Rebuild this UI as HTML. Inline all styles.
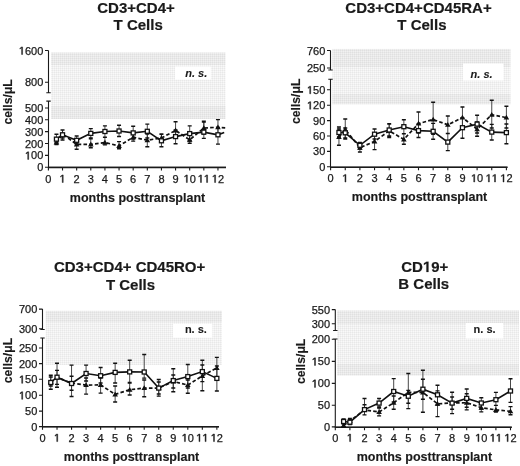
<!DOCTYPE html>
<html><head><meta charset="utf-8"><title>Figure</title>
<style>html,body{margin:0;padding:0;background:#fff;width:520px;height:466px;overflow:hidden}svg{display:block;filter:blur(0.3px)}text{font-family:"Liberation Sans",sans-serif;fill:#1a1a1a;stroke:#1a1a1a;stroke-width:0.25px}.t{font-weight:bold;font-size:15px;stroke-width:0.2px}.yl{font-size:11px}.xl{font-size:11px}.xt{font-weight:bold;font-size:12.5px;text-anchor:middle;stroke-width:0.15px}.yt{font-weight:bold;font-size:12.2px;text-anchor:middle;stroke-width:0.15px}.ns{font-weight:bold;font-size:11px;text-anchor:middle;stroke-width:0.1px}.i{font-style:italic}</style>
</head><body>
<svg width="520" height="466" viewBox="0 0 520 466">
<defs>
<pattern id="grid" width="2" height="2" patternUnits="userSpaceOnUse"><rect width="2" height="2" fill="#f9f9f9"/><rect width="2" height="1" fill="#f1f1f1"/><rect width="1" height="2" fill="#f1f1f1"/><rect width="1" height="1" fill="#e8e8e8"/></pattern>
</defs>
<rect width="520" height="466" fill="#fff"/>
<rect x="51" y="52.5" width="174.5" height="66.5" fill="url(#grid)"/>
<rect x="51" y="52.5" width="174.5" height="12.5" fill="#000" fill-opacity="0.03"/>
<rect x="51" y="106" width="174.5" height="13" fill="#000" fill-opacity="0.03"/>
<rect x="175" y="66.5" width="35.8" height="13.1" fill="#fff"/>
<text class="ns i" x="196.2" y="76.9">n. s.</text>
<path d="M48.5 50.5V92.8M46.3 92.8H50.7M46.3 101.1H50.7M48.5 101.1V167.4M45 50.5H48.5M45 82.2H48.5M45 108H48.5M45 119.8H48.5M45 131.6H48.5M45 143.5H48.5M45 155.4H48.5M45 167.3H48.5M48.5 167.4H226M48.4 167.4V170.4M62.53 167.4V170.4M76.66 167.4V170.4M90.79 167.4V170.4M104.92 167.4V170.4M119.05 167.4V170.4M133.18 167.4V170.4M147.31 167.4V170.4M161.44 167.4V170.4M175.57 167.4V170.4M189.7 167.4V170.4M203.83 167.4V170.4M217.96 167.4V170.4" stroke="#1a1a1a" stroke-width="1.1" fill="none"/>
<path d="M48 167.4H226" stroke="#1a1a1a" stroke-width="1.5" fill="none"/>
<text class="yl" x="24.95 31.06 37.18" y="54.5">600</text>
<text class="yl" x="24.95 31.06 37.18" y="86.2">800</text>
<text class="yl" x="24.95 31.06 37.18" y="112">500</text>
<text class="yl" x="24.95 31.06 37.18" y="123.8">400</text>
<text class="yl" x="24.95 31.06 37.18" y="135.6">300</text>
<text class="yl" x="24.95 31.06 37.18" y="147.5">200</text>
<text class="yl" x="31.06 37.18" y="159.4">00</text>
<text class="yl" x="37.18" y="171.3">0</text>
<text class="xl" x="45.34" y="182.5">0</text>

<text class="xl" x="73.6" y="182.5">2</text>
<text class="xl" x="87.73" y="182.5">3</text>
<text class="xl" x="101.86" y="182.5">4</text>
<text class="xl" x="115.99" y="182.5">5</text>
<text class="xl" x="130.12" y="182.5">6</text>
<text class="xl" x="144.25" y="182.5">7</text>
<text class="xl" x="158.38" y="182.5">8</text>
<text class="xl" x="172.51" y="182.5">9</text>
<text class="xl" x="189.7" y="182.5">0</text>

<text class="xl" x="217.96" y="182.5">2</text>
<text class="t" x="97.23 108.07 118.9 127.24 136 146.83 157.67 166.01" y="13">CD3+CD4+</text>
<text class="t" x="113.61 122.77 126.94 137.77 146.11 150.28 154.45" y="30.4">T Cells</text>
<text class="xt" x="137.5" y="202">months posttransplant</text>
<text class="yt" transform="translate(11.6 101.9) rotate(-90)">cells/&#956;L</text>
<path d="M56.45 134.3V142.5M62.53 130V140M76.66 136V144M90.79 128.6V138M104.92 125.9V137.2M119.05 125.2V136.5M133.18 126.2V139M147.31 124.1V138M161.44 134.2V146.7M175.57 130V143.7M189.7 125.9V141M203.83 121.1V138.4M217.96 128V144.1M56.45 139V144.5M62.53 130V138M76.66 140V149.3M90.79 138.7V147.8M104.92 137.2V144.9M119.05 141.6V148.8M133.18 133V141.1M147.31 134V146.7M161.44 134V142M175.57 121.7V137M189.7 134V143.2M203.83 122V134M217.96 119.6V134" stroke="#333" stroke-width="0.9" fill="none"/>
<path d="M54.45 134.3H58.45M54.45 142.5H58.45M60.53 130H64.53M60.53 140H64.53M74.66 136H78.66M74.66 144H78.66M88.79 128.6H92.79M88.79 138H92.79M102.92 125.9H106.92M102.92 137.2H106.92M117.05 125.2H121.05M117.05 136.5H121.05M131.18 126.2H135.18M131.18 139H135.18M145.31 124.1H149.31M145.31 138H149.31M159.44 134.2H163.44M159.44 146.7H163.44M173.57 130H177.57M173.57 143.7H177.57M187.7 125.9H191.7M187.7 141H191.7M201.83 121.1H205.83M201.83 138.4H205.83M215.96 128H219.96M215.96 144.1H219.96M54.45 139H58.45M54.45 144.5H58.45M60.53 130H64.53M60.53 138H64.53M74.66 140H78.66M74.66 149.3H78.66M88.79 138.7H92.79M88.79 147.8H92.79M102.92 137.2H106.92M102.92 144.9H106.92M117.05 141.6H121.05M117.05 148.8H121.05M131.18 133H135.18M131.18 141.1H135.18M145.31 134H149.31M145.31 146.7H149.31M159.44 134H163.44M159.44 142H163.44M173.57 121.7H177.57M173.57 137H177.57M187.7 134H191.7M187.7 143.2H191.7M201.83 122H205.83M201.83 134H205.83M215.96 119.6H219.96M215.96 134H219.96" stroke="#111" stroke-width="1.4" fill="none"/>
<polyline points="56.45,142.5 62.53,134 76.66,144.4 90.79,144.4 104.92,142.5 119.05,145.9 133.18,137.2 147.31,140.2 161.44,138 175.57,130.4 189.7,139.8 203.83,128 217.96,127.3 225.2,127.8" stroke="#111" stroke-width="1.7" stroke-dasharray="3.6 2.2" fill="none"/>
<polyline points="56.45,139.15 62.53,134.8 76.66,140.3 90.79,133.4 104.92,131.5 119.05,131 133.18,132.9 147.31,131.3 161.44,140.8 175.57,136.6 189.7,133.6 203.83,132.1 217.96,134.8 224.2,132.6" stroke="#111" stroke-width="1.6" fill="none"/>
<path d="M56.45 139.7L59.25 144.5L53.65 144.5ZM62.53 131.2L65.33 136L59.73 136ZM76.66 141.6L79.46 146.4L73.86 146.4ZM90.79 141.6L93.59 146.4L87.99 146.4ZM104.92 139.7L107.72 144.5L102.12 144.5ZM119.05 143.1L121.85 147.9L116.25 147.9ZM133.18 134.4L135.98 139.2L130.38 139.2ZM147.31 137.4L150.11 142.2L144.51 142.2ZM161.44 135.2L164.24 140L158.64 140ZM175.57 127.6L178.37 132.4L172.77 132.4ZM189.7 137L192.5 141.8L186.9 141.8ZM203.83 125.2L206.63 130L201.03 130ZM217.96 124.5L220.76 129.3L215.16 129.3Z" fill="#111"/>
<rect x="54.45" y="137.15" width="4" height="4" fill="#fff" stroke="#111" stroke-width="1.3"/><rect x="60.53" y="132.8" width="4" height="4" fill="#fff" stroke="#111" stroke-width="1.3"/><rect x="74.66" y="138.3" width="4" height="4" fill="#fff" stroke="#111" stroke-width="1.3"/><rect x="88.79" y="131.4" width="4" height="4" fill="#fff" stroke="#111" stroke-width="1.3"/><rect x="102.92" y="129.5" width="4" height="4" fill="#fff" stroke="#111" stroke-width="1.3"/><rect x="117.05" y="129" width="4" height="4" fill="#fff" stroke="#111" stroke-width="1.3"/><rect x="131.18" y="130.9" width="4" height="4" fill="#fff" stroke="#111" stroke-width="1.3"/><rect x="145.31" y="129.3" width="4" height="4" fill="#fff" stroke="#111" stroke-width="1.3"/><rect x="159.44" y="138.8" width="4" height="4" fill="#fff" stroke="#111" stroke-width="1.3"/><rect x="173.57" y="134.6" width="4" height="4" fill="#fff" stroke="#111" stroke-width="1.3"/><rect x="187.7" y="131.6" width="4" height="4" fill="#fff" stroke="#111" stroke-width="1.3"/><rect x="201.83" y="130.1" width="4" height="4" fill="#fff" stroke="#111" stroke-width="1.3"/><rect x="215.96" y="132.8" width="4" height="4" fill="#fff" stroke="#111" stroke-width="1.3"/>
<rect x="332.3" y="48.9" width="178.2" height="55.4" fill="url(#grid)"/>
<rect x="332.3" y="48.9" width="178.2" height="18.1" fill="#000" fill-opacity="0.03"/>
<rect x="332.3" y="94" width="178.2" height="10.3" fill="#000" fill-opacity="0.03"/>
<rect x="463" y="63.5" width="40.5" height="17" fill="#fff"/>
<text class="ns i" x="481.6" y="77.7">n. s.</text>
<path d="M330.5 50.5V70M328.3 70H332.7M328.3 79.3H332.7M330.5 79.3V167.3M327 50.5H330.5M327 68H330.5M327 89.8H330.5M327 105.2H330.5M327 120.6H330.5M327 136H330.5M327 151.4H330.5M327 166.8H330.5M330.5 167.3H507.5M330.6 167.3V170.3M345.25 167.3V170.3M359.9 167.3V170.3M374.55 167.3V170.3M389.2 167.3V170.3M403.85 167.3V170.3M418.5 167.3V170.3M433.15 167.3V170.3M447.8 167.3V170.3M462.45 167.3V170.3M477.1 167.3V170.3M491.75 167.3V170.3M506.4 167.3V170.3" stroke="#1a1a1a" stroke-width="1.1" fill="none"/>
<path d="M330 167.3H507.5" stroke="#1a1a1a" stroke-width="1.5" fill="none"/>
<text class="yl" x="306.95 313.06 319.18" y="54.5">760</text>
<text class="yl" x="306.95 313.06 319.18" y="72">250</text>
<text class="yl" x="313.06 319.18" y="93.8">50</text>
<text class="yl" x="313.06 319.18" y="109.2">20</text>
<text class="yl" x="313.06 319.18" y="124.6">90</text>
<text class="yl" x="313.06 319.18" y="140">60</text>
<text class="yl" x="313.06 319.18" y="155.4">30</text>
<text class="yl" x="319.18" y="170.8">0</text>
<text class="xl" x="327.54" y="182">0</text>

<text class="xl" x="356.84" y="182">2</text>
<text class="xl" x="371.49" y="182">3</text>
<text class="xl" x="386.14" y="182">4</text>
<text class="xl" x="400.79" y="182">5</text>
<text class="xl" x="415.44" y="182">6</text>
<text class="xl" x="430.09" y="182">7</text>
<text class="xl" x="444.74" y="182">8</text>
<text class="xl" x="459.39" y="182">9</text>
<text class="xl" x="477.1" y="182">0</text>

<text class="xl" x="506.4" y="182">2</text>
<text class="t" x="345.35 356.18 367.01 375.35 384.11 394.95 405.78 414.12 422.88 433.71 444.54 452.89 461.23 472.06 482.89" y="12.5">CD3+CD4+CD45RA+</text>
<text class="t" x="397.31 406.47 410.64 421.47 429.81 433.98 438.15" y="29.8">T Cells</text>
<text class="xt" x="419.5" y="201">months posttransplant</text>
<text class="yt" transform="translate(299.6 101.3) rotate(-90)">cells/&#956;L</text>
<path d="M338.95 127V137M345.25 128V138M359.9 142.5V149M374.55 129V139M389.2 123.6V136M403.85 119.7V133.7M418.5 124V137.5M433.15 123.4V139.2M447.8 133.5V150.6M462.45 118V138.3M477.1 115.2V133M491.75 124.4V140M506.4 124V143.7M338.95 129V145.3M345.25 119V139M359.9 143.4V152M374.55 134V149.6M389.2 124V137.5M403.85 133.7V144.2M418.5 112V133M433.15 102.2V134.4M447.8 116V133.5M462.45 107V128M477.1 122V136.2M491.75 100.3V128M506.4 106.3V128" stroke="#333" stroke-width="0.9" fill="none"/>
<path d="M336.95 127H340.95M336.95 137H340.95M343.25 128H347.25M343.25 138H347.25M357.9 142.5H361.9M357.9 149H361.9M372.55 129H376.55M372.55 139H376.55M387.2 123.6H391.2M387.2 136H391.2M401.85 119.7H405.85M401.85 133.7H405.85M416.5 124H420.5M416.5 137.5H420.5M431.15 123.4H435.15M431.15 139.2H435.15M445.8 133.5H449.8M445.8 150.6H449.8M460.45 118H464.45M460.45 138.3H464.45M475.1 115.2H479.1M475.1 133H479.1M489.75 124.4H493.75M489.75 140H493.75M504.4 124H508.4M504.4 143.7H508.4M336.95 129H340.95M336.95 145.3H340.95M343.25 119H347.25M343.25 139H347.25M357.9 143.4H361.9M357.9 152H361.9M372.55 134H376.55M372.55 149.6H376.55M387.2 124H391.2M387.2 137.5H391.2M401.85 133.7H405.85M401.85 144.2H405.85M416.5 112H420.5M416.5 133H420.5M431.15 102.2H435.15M431.15 134.4H435.15M445.8 116H449.8M445.8 133.5H449.8M460.45 107H464.45M460.45 128H464.45M475.1 122H479.1M475.1 136.2H479.1M489.75 100.3H493.75M489.75 128H493.75M504.4 106.3H508.4M504.4 128H508.4" stroke="#111" stroke-width="1.4" fill="none"/>
<polyline points="338.95,137.1 345.25,129.4 359.9,147.7 374.55,141.4 389.2,130.8 403.85,139.4 418.5,123.6 433.15,119.5 447.8,124.8 462.45,117.6 477.1,129.2 491.75,114.7 506.4,117.6" stroke="#111" stroke-width="1.7" stroke-dasharray="3.6 2.2" fill="none"/>
<polyline points="338.95,132.5 345.25,132.8 359.9,145.3 374.55,134.2 389.2,130 403.85,126.7 418.5,130.6 433.15,131.3 447.8,142.1 462.45,127.7 477.1,124.1 491.75,132.1 506.4,132.6" stroke="#111" stroke-width="1.6" fill="none"/>
<path d="M338.95 134.3L341.75 139.1L336.15 139.1ZM345.25 126.6L348.05 131.4L342.45 131.4ZM359.9 144.9L362.7 149.7L357.1 149.7ZM374.55 138.6L377.35 143.4L371.75 143.4ZM389.2 128L392 132.8L386.4 132.8ZM403.85 136.6L406.65 141.4L401.05 141.4ZM418.5 120.8L421.3 125.6L415.7 125.6ZM433.15 116.7L435.95 121.5L430.35 121.5ZM447.8 122L450.6 126.8L445 126.8ZM462.45 114.8L465.25 119.6L459.65 119.6ZM477.1 126.4L479.9 131.2L474.3 131.2ZM491.75 111.9L494.55 116.7L488.95 116.7ZM506.4 114.8L509.2 119.6L503.6 119.6Z" fill="#111"/>
<rect x="336.95" y="130.5" width="4" height="4" fill="#fff" stroke="#111" stroke-width="1.3"/><rect x="343.25" y="130.8" width="4" height="4" fill="#fff" stroke="#111" stroke-width="1.3"/><rect x="357.9" y="143.3" width="4" height="4" fill="#fff" stroke="#111" stroke-width="1.3"/><rect x="372.55" y="132.2" width="4" height="4" fill="#fff" stroke="#111" stroke-width="1.3"/><rect x="387.2" y="128" width="4" height="4" fill="#fff" stroke="#111" stroke-width="1.3"/><rect x="401.85" y="124.7" width="4" height="4" fill="#fff" stroke="#111" stroke-width="1.3"/><rect x="416.5" y="128.6" width="4" height="4" fill="#fff" stroke="#111" stroke-width="1.3"/><rect x="431.15" y="129.3" width="4" height="4" fill="#fff" stroke="#111" stroke-width="1.3"/><rect x="445.8" y="140.1" width="4" height="4" fill="#fff" stroke="#111" stroke-width="1.3"/><rect x="460.45" y="125.7" width="4" height="4" fill="#fff" stroke="#111" stroke-width="1.3"/><rect x="475.1" y="122.1" width="4" height="4" fill="#fff" stroke="#111" stroke-width="1.3"/><rect x="489.75" y="130.1" width="4" height="4" fill="#fff" stroke="#111" stroke-width="1.3"/><rect x="504.4" y="130.6" width="4" height="4" fill="#fff" stroke="#111" stroke-width="1.3"/>
<rect x="45.7" y="310.8" width="176.3" height="54.2" fill="url(#grid)"/>
<rect x="45.7" y="310.8" width="176.3" height="11.2" fill="#000" fill-opacity="0.03"/>
<rect x="173" y="323.8" width="39.3" height="13.9" fill="#fff"/>
<text class="ns" x="195.9" y="332.9">n. s.</text>
<path d="M42.5 309.1V329.5M40.3 329.5H44.7M40.3 338H44.7M42.5 338V426.8M39 309.1H42.5M39 328.7H42.5M39 348H42.5M39 363.6H42.5M39 379.3H42.5M39 395.3H42.5M39 411.1H42.5M39 426.6H42.5M42.5 426.8H219M42.5 426.8V429.8M57.03 426.8V429.8M71.56 426.8V429.8M86.09 426.8V429.8M100.62 426.8V429.8M115.15 426.8V429.8M129.68 426.8V429.8M144.21 426.8V429.8M158.74 426.8V429.8M173.27 426.8V429.8M187.8 426.8V429.8M202.33 426.8V429.8M216.86 426.8V429.8" stroke="#1a1a1a" stroke-width="1.1" fill="none"/>
<path d="M42 426.8H219" stroke="#1a1a1a" stroke-width="1.5" fill="none"/>
<text class="yl" x="18.95 25.06 31.18" y="313.1">700</text>
<text class="yl" x="18.95 25.06 31.18" y="332.7">300</text>
<text class="yl" x="18.95 25.06 31.18" y="352">250</text>
<text class="yl" x="18.95 25.06 31.18" y="367.6">200</text>
<text class="yl" x="25.06 31.18" y="383.3">50</text>
<text class="yl" x="25.06 31.18" y="399.3">00</text>
<text class="yl" x="25.06 31.18" y="415.1">50</text>
<text class="yl" x="31.18" y="430.6">0</text>
<text class="xl" x="39.44" y="441.6">0</text>

<text class="xl" x="68.5" y="441.6">2</text>
<text class="xl" x="83.03" y="441.6">3</text>
<text class="xl" x="97.56" y="441.6">4</text>
<text class="xl" x="112.09" y="441.6">5</text>
<text class="xl" x="126.62" y="441.6">6</text>
<text class="xl" x="141.15" y="441.6">7</text>
<text class="xl" x="155.68" y="441.6">8</text>
<text class="xl" x="170.21" y="441.6">9</text>
<text class="xl" x="187.8" y="441.6">0</text>

<text class="xl" x="216.86" y="441.6">2</text>
<text class="t" x="53.94 64.78 75.61 83.95 92.71 103.54 114.38 122.72 131.48 135.65 146.48 157.31 165.65 174 184.83 196.5" y="272.3">CD3+CD4+ CD45RO+</text>
<text class="t" x="105.91 115.07 119.24 130.07 138.41 142.58 146.75" y="289.6">T Cells</text>
<text class="xt" x="131.5" y="461.2">months posttransplant</text>
<text class="yt" transform="translate(12.1 360.6) rotate(-90)">cells/&#956;L</text>
<path d="M50.78 375.3V389.3M57.03 363.2V387.3M71.56 365.1V396.5M86.09 365.1V381M100.62 367.5V383M115.15 363.2V383M129.68 360.3V382.5M144.21 354.5V378.1M158.74 379.5V396.1M173.27 368.8V391.8M187.8 364.5V388M202.33 360.3V381.6M216.86 366V391M50.78 377V386M57.03 370.4V384.4M71.56 376.2V390.2M86.09 378V394.1M100.62 378V393.1M115.15 386V402M129.68 383V395M144.21 380V396.7M158.74 382V394M173.27 375V388M187.8 380V393.2M202.33 365V390.8M216.86 357.4V378" stroke="#333" stroke-width="0.9" fill="none"/>
<path d="M48.78 375.3H52.78M48.78 389.3H52.78M55.03 363.2H59.03M55.03 387.3H59.03M69.56 365.1H73.56M69.56 396.5H73.56M84.09 365.1H88.09M84.09 381H88.09M98.62 367.5H102.62M98.62 383H102.62M113.15 363.2H117.15M113.15 383H117.15M127.68 360.3H131.68M127.68 382.5H131.68M142.21 354.5H146.21M142.21 378.1H146.21M156.74 379.5H160.74M156.74 396.1H160.74M171.27 368.8H175.27M171.27 391.8H175.27M185.8 364.5H189.8M185.8 388H189.8M200.33 360.3H204.33M200.33 381.6H204.33M214.86 366H218.86M214.86 391H218.86M48.78 377H52.78M48.78 386H52.78M55.03 370.4H59.03M55.03 384.4H59.03M69.56 376.2H73.56M69.56 390.2H73.56M84.09 378H88.09M84.09 394.1H88.09M98.62 378H102.62M98.62 393.1H102.62M113.15 386H117.15M113.15 402H117.15M127.68 383H131.68M127.68 395H131.68M142.21 380H146.21M142.21 396.7H146.21M156.74 382H160.74M156.74 394H160.74M171.27 375H175.27M171.27 388H175.27M185.8 380H189.8M185.8 393.2H189.8M200.33 365H204.33M200.33 390.8H204.33M214.86 357.4H218.86M214.86 378H218.86" stroke="#111" stroke-width="1.4" fill="none"/>
<polyline points="50.78,382 57.03,377.5 71.56,383 86.09,385.1 100.62,384.9 115.15,394.4 129.68,389.7 144.21,388.1 158.74,388 173.27,381.5 187.8,385.1 202.33,375.9 216.86,368" stroke="#111" stroke-width="1.7" stroke-dasharray="3.6 2.2" fill="none"/>
<polyline points="50.78,382.5 57.03,377.2 71.56,383.5 86.09,373.5 100.62,375.75 115.15,372.4 129.68,371.9 144.21,372 158.74,388.1 173.27,380.6 187.8,376.6 202.33,371.6 216.86,378.4" stroke="#111" stroke-width="1.6" fill="none"/>
<path d="M50.78 379.2L53.58 384L47.98 384ZM57.03 374.7L59.83 379.5L54.23 379.5ZM71.56 380.2L74.36 385L68.76 385ZM86.09 382.3L88.89 387.1L83.29 387.1ZM100.62 382.1L103.42 386.9L97.82 386.9ZM115.15 391.6L117.95 396.4L112.35 396.4ZM129.68 386.9L132.48 391.7L126.88 391.7ZM144.21 385.3L147.01 390.1L141.41 390.1ZM158.74 385.2L161.54 390L155.94 390ZM173.27 378.7L176.07 383.5L170.47 383.5ZM187.8 382.3L190.6 387.1L185 387.1ZM202.33 373.1L205.13 377.9L199.53 377.9ZM216.86 365.2L219.66 370L214.06 370Z" fill="#111"/>
<rect x="48.78" y="380.5" width="4" height="4" fill="#fff" stroke="#111" stroke-width="1.3"/><rect x="55.03" y="375.2" width="4" height="4" fill="#fff" stroke="#111" stroke-width="1.3"/><rect x="69.56" y="381.5" width="4" height="4" fill="#fff" stroke="#111" stroke-width="1.3"/><rect x="84.09" y="371.5" width="4" height="4" fill="#fff" stroke="#111" stroke-width="1.3"/><rect x="98.62" y="373.75" width="4" height="4" fill="#fff" stroke="#111" stroke-width="1.3"/><rect x="113.15" y="370.4" width="4" height="4" fill="#fff" stroke="#111" stroke-width="1.3"/><rect x="127.68" y="369.9" width="4" height="4" fill="#fff" stroke="#111" stroke-width="1.3"/><rect x="142.21" y="370" width="4" height="4" fill="#fff" stroke="#111" stroke-width="1.3"/><rect x="156.74" y="386.1" width="4" height="4" fill="#fff" stroke="#111" stroke-width="1.3"/><rect x="171.27" y="378.6" width="4" height="4" fill="#fff" stroke="#111" stroke-width="1.3"/><rect x="185.8" y="374.6" width="4" height="4" fill="#fff" stroke="#111" stroke-width="1.3"/><rect x="200.33" y="369.6" width="4" height="4" fill="#fff" stroke="#111" stroke-width="1.3"/><rect x="214.86" y="376.4" width="4" height="4" fill="#fff" stroke="#111" stroke-width="1.3"/>
<rect x="337" y="310.5" width="182" height="65.1" fill="url(#grid)"/>
<rect x="337" y="310.5" width="182" height="13.5" fill="#000" fill-opacity="0.03"/>
<rect x="337" y="364" width="182" height="11.6" fill="#000" fill-opacity="0.03"/>
<rect x="466" y="323" width="37" height="15.5" fill="#fff"/>
<text class="ns" x="484.6" y="333.2">n. s.</text>
<path d="M335.3 309.6V330.5M333.1 330.5H337.5M333.1 339H337.5M335.3 339V427.2M331.8 309.6H335.3M331.8 323.8H335.3M331.8 339.3H335.3M331.8 361.4H335.3M331.8 383.4H335.3M331.8 405.2H335.3M331.8 426.9H335.3M335.3 427.2H511.8M335.3 427.2V430.2M349.9 427.2V430.2M364.5 427.2V430.2M379.1 427.2V430.2M393.7 427.2V430.2M408.3 427.2V430.2M422.9 427.2V430.2M437.5 427.2V430.2M452.1 427.2V430.2M466.7 427.2V430.2M481.3 427.2V430.2M495.9 427.2V430.2M510.5 427.2V430.2" stroke="#1a1a1a" stroke-width="1.1" fill="none"/>
<path d="M334.8 427.2H511.8" stroke="#1a1a1a" stroke-width="1.5" fill="none"/>
<text class="yl" x="311.75 317.86 323.98" y="313.6">550</text>
<text class="yl" x="311.75 317.86 323.98" y="327.8">300</text>
<text class="yl" x="311.75 317.86 323.98" y="343.3">200</text>
<text class="yl" x="317.86 323.98" y="365.4">50</text>
<text class="yl" x="317.86 323.98" y="387.4">00</text>
<text class="yl" x="317.86 323.98" y="409.2">50</text>
<text class="yl" x="323.98" y="430.9">0</text>
<text class="xl" x="332.24" y="441.6">0</text>

<text class="xl" x="361.44" y="441.6">2</text>
<text class="xl" x="376.04" y="441.6">3</text>
<text class="xl" x="390.64" y="441.6">4</text>
<text class="xl" x="405.24" y="441.6">5</text>
<text class="xl" x="419.84" y="441.6">6</text>
<text class="xl" x="434.44" y="441.6">7</text>
<text class="xl" x="449.04" y="441.6">8</text>
<text class="xl" x="463.64" y="441.6">9</text>
<text class="xl" x="481.3" y="441.6">0</text>

<text class="xl" x="510.5" y="441.6">2</text>
<text class="t" x="401.25 412.08 431.25 439.59" y="272">CD9+</text>
<text class="t" x="398.32 409.16 413.32 424.16 432.5 436.67 440.83" y="289">B Cells</text>
<text class="xt" x="424.4" y="461.4">months posttransplant</text>
<text class="yt" transform="translate(304.6 361.4) rotate(-90)">cells/&#956;L</text>
<path d="M343.62 419V424M349.9 419.5V424.5M364.5 398.5V414.9M379.1 398.5V408M393.7 378.6V402M408.3 373.5V403.3M422.9 370.3V399.2M437.5 385.2V405M452.1 392.2V413.6M466.7 389V407.2M481.3 397.7V409M495.9 392.4V405.4M510.5 378.8V402.4M343.62 423V427M349.9 418.5V423.5M364.5 404.8V414.9M379.1 407V415.9M393.7 396V409.2M408.3 390.4V408.6M422.9 379.2V412.2M437.5 390.9V416.6M452.1 397V409.3M466.7 393.8V409.9M481.3 403V411.9M495.9 405.4V412M510.5 406.6V414.8" stroke="#333" stroke-width="0.9" fill="none"/>
<path d="M341.62 419H345.62M341.62 424H345.62M347.9 419.5H351.9M347.9 424.5H351.9M362.5 398.5H366.5M362.5 414.9H366.5M377.1 398.5H381.1M377.1 408H381.1M391.7 378.6H395.7M391.7 402H395.7M406.3 373.5H410.3M406.3 403.3H410.3M420.9 370.3H424.9M420.9 399.2H424.9M435.5 385.2H439.5M435.5 405H439.5M450.1 392.2H454.1M450.1 413.6H454.1M464.7 389H468.7M464.7 407.2H468.7M479.3 397.7H483.3M479.3 409H483.3M493.9 392.4H497.9M493.9 405.4H497.9M508.5 378.8H512.5M508.5 402.4H512.5M341.62 423H345.62M341.62 427H345.62M347.9 418.5H351.9M347.9 423.5H351.9M362.5 404.8H366.5M362.5 414.9H366.5M377.1 407H381.1M377.1 415.9H381.1M391.7 396H395.7M391.7 409.2H395.7M406.3 390.4H410.3M406.3 408.6H410.3M420.9 379.2H424.9M420.9 412.2H424.9M435.5 390.9H439.5M435.5 416.6H439.5M450.1 397H454.1M450.1 409.3H454.1M464.7 393.8H468.7M464.7 409.9H468.7M479.3 403H483.3M479.3 411.9H483.3M493.9 405.4H497.9M493.9 412H497.9M508.5 406.6H512.5M508.5 414.8H512.5" stroke="#111" stroke-width="1.4" fill="none"/>
<polyline points="343.62,425.5 349.9,421 364.5,410 379.1,412 393.7,402.7 408.3,392.4 422.9,392.4 437.5,403.8 452.1,403 466.7,402.7 481.3,407.7 495.9,409.9 510.5,411.3" stroke="#111" stroke-width="1.7" stroke-dasharray="3.6 2.2" fill="none"/>
<polyline points="343.62,421.5 349.9,422.2 364.5,409.6 379.1,403.1 393.7,391.5 408.3,396.25 422.9,389.2 437.5,394.8 452.1,403.1 466.7,398.4 481.3,403 495.9,399.7 510.5,391" stroke="#111" stroke-width="1.6" fill="none"/>
<path d="M343.62 422.7L346.42 427.5L340.82 427.5ZM349.9 418.2L352.7 423L347.1 423ZM364.5 407.2L367.3 412L361.7 412ZM379.1 409.2L381.9 414L376.3 414ZM393.7 399.9L396.5 404.7L390.9 404.7ZM408.3 389.6L411.1 394.4L405.5 394.4ZM422.9 389.6L425.7 394.4L420.1 394.4ZM437.5 401L440.3 405.8L434.7 405.8ZM452.1 400.2L454.9 405L449.3 405ZM466.7 399.9L469.5 404.7L463.9 404.7ZM481.3 404.9L484.1 409.7L478.5 409.7ZM495.9 407.1L498.7 411.9L493.1 411.9ZM510.5 408.5L513.3 413.3L507.7 413.3Z" fill="#111"/>
<rect x="341.62" y="419.5" width="4" height="4" fill="#fff" stroke="#111" stroke-width="1.3"/><rect x="347.9" y="420.2" width="4" height="4" fill="#fff" stroke="#111" stroke-width="1.3"/><rect x="362.5" y="407.6" width="4" height="4" fill="#fff" stroke="#111" stroke-width="1.3"/><rect x="377.1" y="401.1" width="4" height="4" fill="#fff" stroke="#111" stroke-width="1.3"/><rect x="391.7" y="389.5" width="4" height="4" fill="#fff" stroke="#111" stroke-width="1.3"/><rect x="406.3" y="394.25" width="4" height="4" fill="#fff" stroke="#111" stroke-width="1.3"/><rect x="420.9" y="387.2" width="4" height="4" fill="#fff" stroke="#111" stroke-width="1.3"/><rect x="435.5" y="392.8" width="4" height="4" fill="#fff" stroke="#111" stroke-width="1.3"/><rect x="450.1" y="401.1" width="4" height="4" fill="#fff" stroke="#111" stroke-width="1.3"/><rect x="464.7" y="396.4" width="4" height="4" fill="#fff" stroke="#111" stroke-width="1.3"/><rect x="479.3" y="401" width="4" height="4" fill="#fff" stroke="#111" stroke-width="1.3"/><rect x="493.9" y="397.7" width="4" height="4" fill="#fff" stroke="#111" stroke-width="1.3"/><rect x="508.5" y="389" width="4" height="4" fill="#fff" stroke="#111" stroke-width="1.3"/>
<g fill="#1a1a1a" stroke="#1a1a1a"><path transform="matrix(0.005371 0 0 -0.005371 18.83 54.5)" d="M515 0V1237L197 1010V1180L530 1409H696V0Z" stroke-width="83.78"/><path transform="matrix(0.005371 0 0 -0.005371 24.95 159.4)" d="M515 0V1237L197 1010V1180L530 1409H696V0Z" stroke-width="83.78"/><path transform="matrix(0.005371 0 0 -0.005371 59.47 182.5)" d="M515 0V1237L197 1010V1180L530 1409H696V0Z" stroke-width="83.78"/><path transform="matrix(0.005371 0 0 -0.005371 183.58 182.5)" d="M515 0V1237L197 1010V1180L530 1409H696V0Z" stroke-width="83.78"/><path transform="matrix(0.005371 0 0 -0.005371 197.71 182.5)" d="M515 0V1237L197 1010V1180L530 1409H696V0Z" stroke-width="83.78"/><path transform="matrix(0.005371 0 0 -0.005371 203.83 182.5)" d="M515 0V1237L197 1010V1180L530 1409H696V0Z" stroke-width="83.78"/><path transform="matrix(0.005371 0 0 -0.005371 211.84 182.5)" d="M515 0V1237L197 1010V1180L530 1409H696V0Z" stroke-width="83.78"/><path transform="matrix(0.005371 0 0 -0.005371 306.95 93.8)" d="M515 0V1237L197 1010V1180L530 1409H696V0Z" stroke-width="83.78"/><path transform="matrix(0.005371 0 0 -0.005371 306.95 109.2)" d="M515 0V1237L197 1010V1180L530 1409H696V0Z" stroke-width="83.78"/><path transform="matrix(0.005371 0 0 -0.005371 342.19 182)" d="M515 0V1237L197 1010V1180L530 1409H696V0Z" stroke-width="83.78"/><path transform="matrix(0.005371 0 0 -0.005371 470.98 182)" d="M515 0V1237L197 1010V1180L530 1409H696V0Z" stroke-width="83.78"/><path transform="matrix(0.005371 0 0 -0.005371 485.63 182)" d="M515 0V1237L197 1010V1180L530 1409H696V0Z" stroke-width="83.78"/><path transform="matrix(0.005371 0 0 -0.005371 491.75 182)" d="M515 0V1237L197 1010V1180L530 1409H696V0Z" stroke-width="83.78"/><path transform="matrix(0.005371 0 0 -0.005371 500.28 182)" d="M515 0V1237L197 1010V1180L530 1409H696V0Z" stroke-width="83.78"/><path transform="matrix(0.005371 0 0 -0.005371 18.95 383.3)" d="M515 0V1237L197 1010V1180L530 1409H696V0Z" stroke-width="83.78"/><path transform="matrix(0.005371 0 0 -0.005371 18.95 399.3)" d="M515 0V1237L197 1010V1180L530 1409H696V0Z" stroke-width="83.78"/><path transform="matrix(0.005371 0 0 -0.005371 53.97 441.6)" d="M515 0V1237L197 1010V1180L530 1409H696V0Z" stroke-width="83.78"/><path transform="matrix(0.005371 0 0 -0.005371 181.68 441.6)" d="M515 0V1237L197 1010V1180L530 1409H696V0Z" stroke-width="83.78"/><path transform="matrix(0.005371 0 0 -0.005371 196.21 441.6)" d="M515 0V1237L197 1010V1180L530 1409H696V0Z" stroke-width="83.78"/><path transform="matrix(0.005371 0 0 -0.005371 202.33 441.6)" d="M515 0V1237L197 1010V1180L530 1409H696V0Z" stroke-width="83.78"/><path transform="matrix(0.005371 0 0 -0.005371 210.74 441.6)" d="M515 0V1237L197 1010V1180L530 1409H696V0Z" stroke-width="83.78"/><path transform="matrix(0.005371 0 0 -0.005371 311.75 365.4)" d="M515 0V1237L197 1010V1180L530 1409H696V0Z" stroke-width="83.78"/><path transform="matrix(0.005371 0 0 -0.005371 311.75 387.4)" d="M515 0V1237L197 1010V1180L530 1409H696V0Z" stroke-width="83.78"/><path transform="matrix(0.005371 0 0 -0.005371 346.84 441.6)" d="M515 0V1237L197 1010V1180L530 1409H696V0Z" stroke-width="83.78"/><path transform="matrix(0.005371 0 0 -0.005371 475.18 441.6)" d="M515 0V1237L197 1010V1180L530 1409H696V0Z" stroke-width="83.78"/><path transform="matrix(0.005371 0 0 -0.005371 489.78 441.6)" d="M515 0V1237L197 1010V1180L530 1409H696V0Z" stroke-width="83.78"/><path transform="matrix(0.005371 0 0 -0.005371 495.9 441.6)" d="M515 0V1237L197 1010V1180L530 1409H696V0Z" stroke-width="83.78"/><path transform="matrix(0.005371 0 0 -0.005371 504.38 441.6)" d="M515 0V1237L197 1010V1180L530 1409H696V0Z" stroke-width="83.78"/><path transform="matrix(0.007324 0 0 -0.007324 422.91 272)" d="M478 0V1170L140 959V1180L493 1409H759V0Z" stroke-width="27.31"/></g>
</svg>
</body></html>
